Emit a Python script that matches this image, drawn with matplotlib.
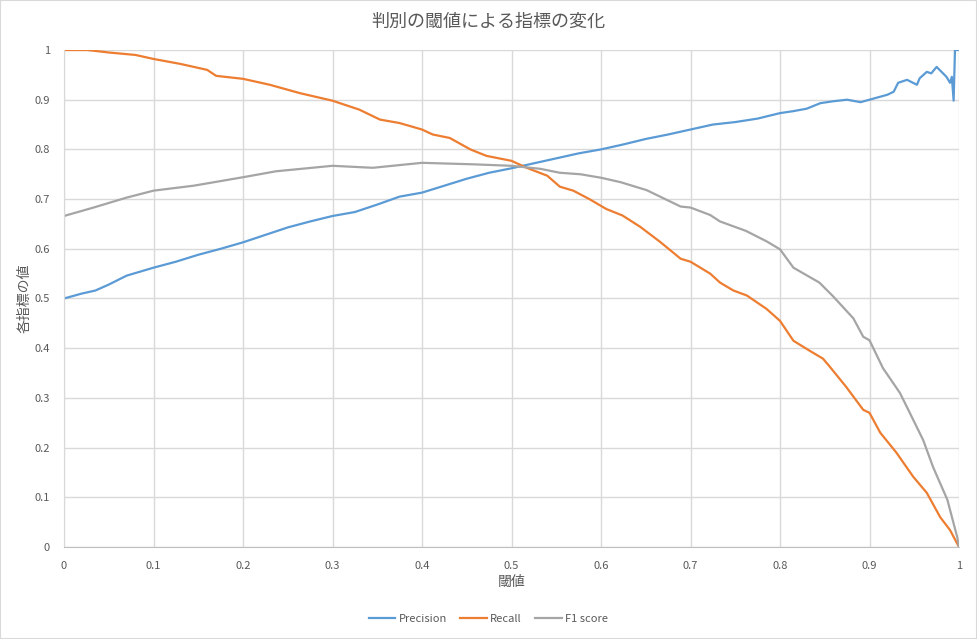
import matplotlib.pyplot as plt
from matplotlib.patches import Rectangle
from matplotlib.ticker import FuncFormatter, MultipleLocator

plt.rcParams['font.family'] = ['Noto Sans CJK JP', 'DejaVu Sans']

# Values
precision_x = [0, 0.02, 0.035, 0.05, 0.07, 0.1, 0.125, 0.15, 0.175, 0.2, 0.225, 0.25,
               0.275, 0.3, 0.325, 0.35, 0.375, 0.4, 0.425, 0.45, 0.475, 0.5, 0.525,
               0.55, 0.575, 0.6, 0.625, 0.65, 0.675, 0.7, 0.725, 0.75, 0.775, 0.8,
               0.815, 0.83, 0.845, 0.86, 0.875, 0.89, 0.9, 0.91, 0.92, 0.927, 0.932,
               0.942, 0.953, 0.956, 0.964, 0.969, 0.975, 0.986, 0.99, 0.992, 0.994,
               0.9955, 1.0]
precision_y = [0.500, 0.510, 0.516, 0.528, 0.546, 0.562, 0.574, 0.588, 0.600, 0.613,
               0.628, 0.643, 0.655, 0.666, 0.674, 0.689, 0.705, 0.713, 0.727, 0.741,
               0.753, 0.762, 0.772, 0.782, 0.792, 0.800, 0.810, 0.821, 0.830, 0.840,
               0.850, 0.855, 0.862, 0.873, 0.877, 0.882, 0.893, 0.897, 0.900, 0.895,
               0.900, 0.905, 0.910, 0.916, 0.934, 0.940, 0.930, 0.943, 0.956, 0.953,
               0.966, 0.946, 0.934, 0.946, 0.898, 1.0, 1.0]

recall_x = [0, 0.026, 0.05, 0.08, 0.1, 0.13, 0.16, 0.17, 0.2, 0.23, 0.264, 0.3, 0.33,
            0.353, 0.375, 0.4, 0.412, 0.431, 0.454, 0.472, 0.5, 0.517, 0.54, 0.554,
            0.569, 0.587, 0.606, 0.624, 0.644, 0.666, 0.689, 0.7, 0.722, 0.733, 0.748,
            0.763, 0.785, 0.8, 0.815, 0.833, 0.848, 0.856, 0.874, 0.893, 0.9, 0.912,
            0.93, 0.949, 0.964, 0.979, 0.99, 1.0]
recall_y = [1.0, 1.0, 0.995, 0.99, 0.982, 0.972, 0.960, 0.948, 0.942, 0.930, 0.913,
            0.898, 0.880, 0.860, 0.853, 0.840, 0.830, 0.823, 0.800, 0.787, 0.777, 0.763,
            0.747, 0.725, 0.717, 0.700, 0.680, 0.667, 0.644, 0.614, 0.580, 0.574, 0.550,
            0.532, 0.516, 0.506, 0.479, 0.455, 0.415, 0.395, 0.379, 0.362, 0.322, 0.276,
            0.270, 0.230, 0.190, 0.141, 0.109, 0.060, 0.034, 0.0]

f1_x = [0, 0.033, 0.07, 0.1, 0.145, 0.2, 0.237, 0.3, 0.345, 0.4, 0.457, 0.5, 0.532,
        0.554, 0.577, 0.6, 0.622, 0.651, 0.689, 0.7, 0.722, 0.733, 0.762, 0.785, 0.8,
        0.815, 0.844, 0.859, 0.882, 0.893, 0.9, 0.915, 0.934, 0.945, 0.96, 0.971,
        0.987, 0.998, 1.0]
f1_y = [0.666, 0.683, 0.703, 0.717, 0.727, 0.744, 0.756, 0.767, 0.763, 0.773, 0.770,
        0.767, 0.761, 0.753, 0.750, 0.743, 0.734, 0.718, 0.685, 0.683, 0.668, 0.655,
        0.636, 0.615, 0.599, 0.562, 0.532, 0.505, 0.460, 0.423, 0.416, 0.360, 0.310,
        0.270, 0.215, 0.161, 0.095, 0.020, 0.0]

text_color = "#595959"
grid_color = "#D9D9D9"

fig = plt.figure(figsize=(9.77, 6.39), dpi=100)
ax = fig.add_axes([64 / 977, 1 - 547 / 639, 895 / 977, 497 / 639])

ax.plot(precision_x, precision_y, color="#5B9BD5", lw=1.6, label="Precision")
ax.plot(recall_x, recall_y, color="#ED7D31", lw=1.6, label="Recall")
ax.plot(f1_x, f1_y, color="#A5A5A5", lw=1.6, label="F1 score")

ax.set_xlim(0, 1)
ax.set_ylim(0, 1)
ax.xaxis.set_major_locator(MultipleLocator(0.1))
ax.yaxis.set_major_locator(MultipleLocator(0.1))
fmt = FuncFormatter(lambda v, _: f"{round(v, 1):g}")
ax.xaxis.set_major_formatter(fmt)
ax.yaxis.set_major_formatter(fmt)
ax.grid(True, color=grid_color, lw=1)
ax.set_axisbelow(True)
ax.tick_params(length=0, labelsize=8, colors=text_color, pad=10)

for side in ["top", "right"]:
    ax.spines[side].set_visible(False)
ax.spines["left"].set_color(grid_color)
ax.spines["bottom"].set_color("#BFBFBF")

ax.set_xlabel("閾値", fontsize=10, color=text_color, labelpad=3)
ax.set_ylabel("各指標の値", fontsize=10, color=text_color)
ax.yaxis.set_label_coords(-0.036, 0.5)
fig.text(0.5, 1 - 22 / 639, "判別の閾値による指標の変化", ha="center", va="center",
         fontsize=13, color=text_color)

fig.legend(loc="center", bbox_to_anchor=(0.5, 1 - 619 / 639), ncol=3, frameon=False,
           fontsize=8, handlelength=2.4, handletextpad=0.3, columnspacing=1.2,
           labelcolor=text_color)

fig.patches.append(Rectangle((0, 0), 1, 1, transform=fig.transFigure, fill=False,
                             edgecolor=grid_color, lw=1.5))

fig.savefig("out.png", dpi=100, facecolor="white")
